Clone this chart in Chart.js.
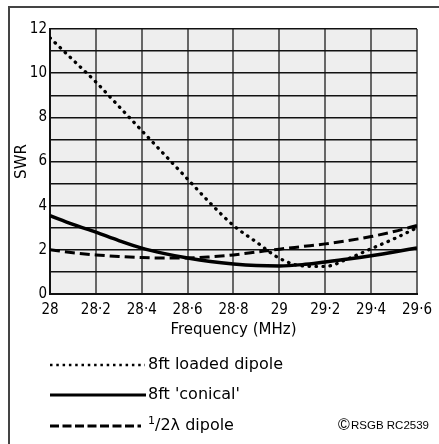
<!doctype html>
<html>
  <head>
    <meta charset="UTF-8">
    <title>SWR</title>
    <script src="https://cdn.jsdelivr.net/npm/chart.js@4/dist/chart.umd.min.js"></script>
    <style>
      body {
        margin: 0;
        background: #fff;
      }
      #wrap {
        width: 439px;
        height: 444px;
      }
    </style>
  </head>
  <body>
    <div id="wrap"><canvas id="swrChart" width="439" height="444"></canvas></div>
    <script>
      // frequency points (MHz) and SWR
      var freqs = [28.0, 28.1, 28.2, 28.3, 28.4, 28.5, 28.6, 28.7, 28.8, 28.9, 29.0, 29.1, 29.2, 29.3, 29.4, 29.5, 29.6]
      var loadedDipole = [11.6, 10.6, 9.6, 8.5, 7.4, 6.3, 5.2, 4.1, 3.1, 2.35, 1.62, 1.27, 1.25, 1.6, 2.05, 2.5, 3.0]
      var conical = [3.55, 3.15, 2.8, 2.42, 2.08, 1.83, 1.63, 1.47, 1.36, 1.29, 1.27, 1.33, 1.45, 1.58, 1.73, 1.9, 2.09]
      var halfWave = [2.0, 1.87, 1.77, 1.7, 1.65, 1.63, 1.63, 1.68, 1.77, 1.9, 2.03, 2.15, 2.27, 2.42, 2.6, 2.83, 3.1]

      var legendLabels = ["8ft loaded dipole", "8ft 'conical'", "/2\u03bb dipole"]

      function pts(ys) {
        var out = []
        for (var i = 0; i < freqs.length; i++) {
          out.push({x: freqs[i], y: ys[i]})
        }
        return out
      }

      var plotBg = {
        id: 'plotBg',
        beforeDraw: function(chart) {
          var a = chart.chartArea
          var ctx = chart.ctx
          ctx.save()
          ctx.fillStyle = '#eeeeee'
          ctx.fillRect(a.left, a.top, a.right - a.left, a.bottom - a.top)
          ctx.restore()
        }
      }

      var extras = {
        id: 'extras',
        afterDraw: function(chart) {
          var ctx = chart.ctx
          ctx.save()
          // frame
          ctx.strokeStyle = '#444'
          ctx.lineWidth = 2
          ctx.beginPath()
          ctx.moveTo(9, 444)
          ctx.lineTo(9, 7)
          ctx.lineTo(439, 7)
          ctx.stroke()

          // legend
          var rows = [365, 395, 426]
          ctx.strokeStyle = '#000'
          ctx.lineWidth = 2.5
          ctx.setLineDash([2.5, 3.8])
          ctx.beginPath(); ctx.moveTo(50, rows[0]); ctx.lineTo(145, rows[0]); ctx.stroke()
          ctx.lineWidth = 3
          ctx.setLineDash([])
          ctx.beginPath(); ctx.moveTo(50, rows[1]); ctx.lineTo(146, rows[1]); ctx.stroke()
          ctx.setLineDash([9, 3.5])
          ctx.beginPath(); ctx.moveTo(50, rows[2]); ctx.lineTo(141, rows[2]); ctx.stroke()
          ctx.setLineDash([])

          ctx.fillStyle = '#000'
          ctx.textBaseline = 'middle'
          ctx.font = '16px "DejaVu Sans"'
          ctx.fillText(legendLabels[0], 148, rows[0])
          ctx.fillText(legendLabels[1], 148, rows[1])
          ctx.font = '11px "DejaVu Sans"'
          ctx.fillText('1', 148, rows[2] - 5)
          ctx.font = '16px "DejaVu Sans"'
          ctx.fillText(legendLabels[2], 155, rows[2])

          ctx.font = '16px "Liberation Sans"'
          ctx.fillText('\u00a9', 338, rows[2])
          ctx.font = '11.5px "Liberation Sans"'
          ctx.fillText('RSGB RC2539', 351, rows[2])
          ctx.restore()
        }
      }

      var ctx = document.getElementById('swrChart').getContext('2d')
      var myChart = new Chart(ctx, {
        type: 'line',
        data: {
          datasets: [
            {
              label: legendLabels[0],
              data: pts(loadedDipole),
              borderColor: '#000',
              borderWidth: 3.3,
              borderDash: [0.5, 6.5],
              borderCapStyle: 'round',
              pointRadius: 0,
              cubicInterpolationMode: 'monotone'
            },
            {
              label: legendLabels[1],
              data: pts(conical),
              borderColor: '#000',
              borderWidth: 3.5,
              pointRadius: 0,
              cubicInterpolationMode: 'monotone'
            },
            {
              label: legendLabels[2],
              data: pts(halfWave),
              borderColor: '#000',
              borderWidth: 3,
              borderDash: [10, 5],
              pointRadius: 0,
              cubicInterpolationMode: 'monotone'
            }
          ]
        },
        options: {
          responsive: false,
          animation: false,
          layout: {
            padding: {top: 29, right: 21, left: 0, bottom: 90}
          },
          plugins: {
            legend: {display: false},
            tooltip: {enabled: false}
          },
          scales: {
            x: {
              type: 'linear',
              min: 28,
              max: 29.6,
              afterFit: function(s) { s.height = 60 },
              ticks: {
                stepSize: 0.2,
                padding: 7,
                color: '#000',
                maxRotation: 0,
                font: {family: '"DejaVu Sans Condensed", "DejaVu Sans"', size: 15},
                callback: function(v) {
                  var t = (Math.round(v * 10) / 10).toFixed(1)
                  if (t.slice(-2) === '.0') t = t.slice(0, -2)
                  return t.replace('.', '\u00b7')
                }
              },
              grid: {color: '#666', lineWidth: 2, drawTicks: false},
              border: {color: '#111', width: 2},
              title: {
                display: true,
                text: 'Frequency (MHz)',
                color: '#000',
                font: {family: '"DejaVu Sans"', size: 15},
                padding: {top: 0, bottom: 15}
              }
            },
            y: {
              min: 0,
              max: 12,
              afterFit: function(s) { s.width = 50 },
              ticks: {
                stepSize: 1,
                padding: 3,
                color: '#000',
                font: {family: '"DejaVu Sans Condensed", "DejaVu Sans"', size: 15},
                callback: function(v) { return v % 2 === 0 ? v : '' }
              },
              grid: {color: '#111', lineWidth: 1.5, drawTicks: false},
              border: {color: '#111', width: 2},
              title: {
                display: true,
                text: 'SWR',
                color: '#000',
                font: {family: '"DejaVu Sans"', size: 15},
                padding: {top: 13, bottom: 0}
              }
            }
          }
        },
        plugins: [plotBg, extras]
      })
    </script>
  </body>
</html>
